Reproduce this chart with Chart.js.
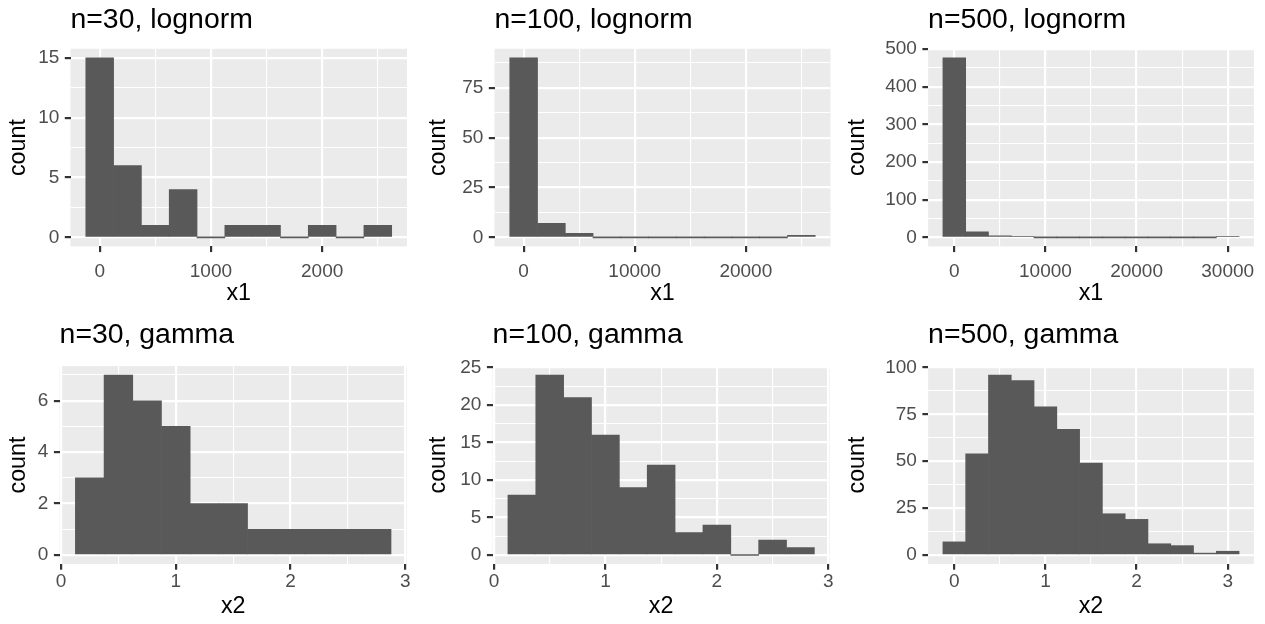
<!DOCTYPE html>
<html>
<head>
<meta charset="utf-8">
<title>Histograms</title>
<script src="https://cdn.jsdelivr.net/npm/chart.js@4.4.1/dist/chart.umd.min.js"></script>
<style>
  html, body { margin: 0; padding: 0; background: #ffffff; }
  #wrap { position: relative; width: 1265px; height: 624px; overflow: hidden; }
  #wrap canvas { position: absolute; left: 0; top: 0; }
</style>
</head>
<body>
<div id="wrap"></div>
<script>
// ---- data ----
const titles = ["n=30, lognorm", "n=100, lognorm", "n=500, lognorm", "n=30, gamma", "n=100, gamma", "n=500, gamma"]
const xTitles = ["x1", "x1", "x1", "x2", "x2", "x2"]

// bin midpoints
const midsLn30 = [0, 250, 500, 750, 1000, 1250, 1500, 1750, 2000, 2250, 2500]
const midsLn100 = [0, 2500, 5000, 7500, 10000, 12500, 15000, 17500, 20000, 22500, 25000]
const midsLn500 = [0, 2500, 5000, 7500, 10000, 12500, 15000, 17500, 20000, 22500, 25000, 27500, 30000]
const midsGa30 = [0.25, 0.5, 0.75, 1, 1.25, 1.5, 1.75, 2, 2.25, 2.5, 2.75]
const midsGa100 = [0.25, 0.5, 0.75, 1, 1.25, 1.5, 1.75, 2, 2.25, 2.5, 2.75]
const midsGa500 = [0, 0.25, 0.5, 0.75, 1, 1.25, 1.5, 1.75, 2, 2.25, 2.5, 2.75, 3]

// counts per bin
const countsLn30 = [15, 6, 1, 4, 0, 1, 1, 0, 1, 0, 1]
const countsLn100 = [90, 7, 2, 0, 0, 0, 0, 0, 0, 0, 1]
const countsLn500 = [477, 15, 4, 3, 0, 0, 0, 0, 0, 0, 0, 0, 1]
const countsGa30 = [3, 7, 6, 5, 2, 2, 1, 1, 1, 1, 1]
const countsGa100 = [8, 24, 21, 16, 9, 12, 3, 4, 0, 2, 1]
const countsGa500 = [7, 54, 96, 93, 79, 67, 49, 22, 19, 6, 5, 1, 2]

// tick labels
const xLabelsLn30 = ["0", "1000", "2000"]
const xLabelsLn100 = ["0", "10000", "20000"]
const xLabelsLn500 = ["0", "10000", "20000", "30000"]
const xLabelsGa = ["0", "1", "2", "3"]
const yLabelsLn30 = ["0", "5", "10", "15"]
const yLabelsLn100 = ["0", "25", "50", "75"]
const yLabelsLn500 = ["0", "100", "200", "300", "400", "500"]
const yLabelsGa30 = ["0", "2", "4", "6"]
const yLabelsGa100 = ["0", "5", "10", "15", "20", "25"]
const yLabelsGa500 = ["0", "25", "50", "75", "100"]

// ---- layout (page pixels) ----
const FONT = "'Liberation Sans', Arial, Helvetica, sans-serif"
const TICK_FONT = 19
const AXIS_FONT = 23.3
const TITLE_FONT = 28.4
const LH = 1.2
const TICK_LEN = 5.7

const frames = [
  { L: 70.5, R: 407, T: 48.8, B: 246.4, countX: 18.8, row: 0 },
  { L: 494.5, R: 830.5, T: 48.8, B: 246.4, countX: 438.8, row: 0 },
  { L: 928.1, R: 1253.9, T: 48.8, B: 246.4, countX: 857.1, row: 0 },
  { L: 59.6, R: 406.8, T: 366, B: 564, countX: 18.8, row: 1 },
  { L: 492.6, R: 829.7, T: 366, B: 564, countX: 438.8, row: 1 },
  { L: 928.1, R: 1253.9, T: 366, B: 564, countX: 857.1, row: 1 },
]
const rows = [
  { titleY: 20.5, tickY: 272, xTitleY: 293.5 },
  { titleY: 335.5, tickY: 582, xTitleY: 606.5 },
]

const panelBackground = {
  id: "panelBackground",
  beforeDraw(chart) {
    const { ctx, chartArea: { left, top, width, height } } = chart
    ctx.save()
    ctx.fillStyle = "#EBEBEB"
    ctx.fillRect(left, top, width, height)
    ctx.restore()
  },
}

// majors from labels, minors halfway (ggplot style), kept inside the range
const tickSet = (labels, min, max) => {
  const majors = labels.map(Number)
  const step = majors[1] - majors[0]
  const minors = []
  for (let v = majors[0] - step / 2; v <= majors[majors.length - 1] + step / 2; v += step) {
    if (v > min && v < max) minors.push(v)
  }
  const all = majors.map((v) => ({ value: v, minor: false }))
    .concat(minors.map((v) => ({ value: v, minor: true })))
    .filter((t) => t.value >= min && t.value <= max)
  return all.sort((a, b) => a.value - b.value)
}

const axisOptions = (labels, min, max, fit, tickPadding, titleText) => {
  const ticksList = tickSet(labels, min, max)
  const majors = labels.map(Number)
  return {
    type: "linear",
    min: min,
    max: max,
    bounds: "data",
    offset: false,
    border: { display: false },
    grid: {
      offset: false,
      color: "#FFFFFF",
      lineWidth: (c) => (c.tick && c.tick.minor ? 1.1 : 2.2),
      drawTicks: true,
      tickLength: TICK_LEN,
      tickWidth: 2.2,
      tickColor: (c) => (c.tick && c.tick.minor ? "rgba(0,0,0,0)" : "#333333"),
    },
    ticks: {
      autoSkip: false,
      maxRotation: 0,
      minRotation: 0,
      padding: tickPadding,
      color: "#4D4D4D",
      font: { family: FONT, size: TICK_FONT, lineHeight: LH },
      callback: (value) => {
        const k = majors.indexOf(value)
        return k >= 0 ? labels[k] : ""
      },
    },
    title: {
      display: true,
      text: titleText,
      color: "#000000",
      padding: 0,
      font: { family: FONT, size: AXIS_FONT, lineHeight: LH },
    },
    afterBuildTicks: (scale) => {
      scale.ticks = ticksList.map((t) => ({ value: t.value, minor: t.minor }))
    },
    afterFit: fit,
  }
}

const makePanel = (i, mids, counts, xLabels, yLabels) => {
  const f = frames[i]
  const r = rows[f.row]
  const canvas = document.createElement("canvas")
  canvas.width = 1265
  canvas.height = 624
  document.getElementById("wrap").appendChild(canvas)

  // ggplot-like 5% expansion around the bins
  const w = mids[1] - mids[0]
  const lo = mids[0] - w / 2
  const hi = mids[mids.length - 1] + w / 2
  const xMin = lo - (hi - lo) * 0.05
  const xMax = hi + (hi - lo) * 0.05
  const top = Math.max(...counts)
  const yMin = -top * 0.05
  const yMax = top * 1.05

  const padLeft = f.countX - (AXIS_FONT * LH) / 2
  const padTop = r.titleY - (TITLE_FONT * LH) / 2
  const padBottom = 624 - r.xTitleY - (AXIS_FONT * LH) / 2
  const padRight = 1265 - f.R
  const xTickPad = Math.max(0, r.tickY - f.B - TICK_LEN - (TICK_FONT * LH) / 2)

  const fitX = (scale) => {
    scale.height = 624 - padBottom - f.B
    scale.paddingLeft = 0
    scale.paddingRight = 0
    scale.paddingTop = 0
    scale.paddingBottom = 0
  }
  const fitY = (scale) => {
    scale.width = f.L - padLeft
    scale.paddingLeft = 0
    scale.paddingRight = 0
    scale.paddingTop = 0
    scale.paddingBottom = 0
  }

  return new Chart(canvas, {
    type: "bar",
    data: {
      datasets: [
        {
          data: mids.map((m, k) => ({ x: m, y: counts[k] })),
          backgroundColor: "#595959",
          borderWidth: 0,
          barPercentage: 1,
          categoryPercentage: 1,
          minBarLength: 1,
        },
      ],
    },
    options: {
      responsive: false,
      animation: false,
      devicePixelRatio: 1,
      events: [],
      layout: { padding: { left: padLeft, top: padTop, right: padRight, bottom: padBottom } },
      plugins: {
        legend: { display: false },
        tooltip: { enabled: false },
        title: {
          display: true,
          text: titles[i],
          align: "start",
          fullSize: false,
          color: "#000000",
          font: { family: FONT, size: TITLE_FONT, weight: "normal", lineHeight: LH },
          padding: { top: 0, bottom: f.T - padTop - TITLE_FONT * LH },
        },
      },
      scales: {
        x: axisOptions(xLabels, xMin, xMax, fitX, xTickPad, xTitles[i]),
        y: axisOptions(yLabels, yMin, yMax, fitY, 5.5, "count"),
      },
    },
    plugins: [panelBackground],
  })
}

makePanel(0, midsLn30, countsLn30, xLabelsLn30, yLabelsLn30)
makePanel(1, midsLn100, countsLn100, xLabelsLn100, yLabelsLn100)
makePanel(2, midsLn500, countsLn500, xLabelsLn500, yLabelsLn500)
makePanel(3, midsGa30, countsGa30, xLabelsGa, yLabelsGa30)
makePanel(4, midsGa100, countsGa100, xLabelsGa, yLabelsGa100)
makePanel(5, midsGa500, countsGa500, xLabelsGa, yLabelsGa500)
</script>
</body>
</html>
